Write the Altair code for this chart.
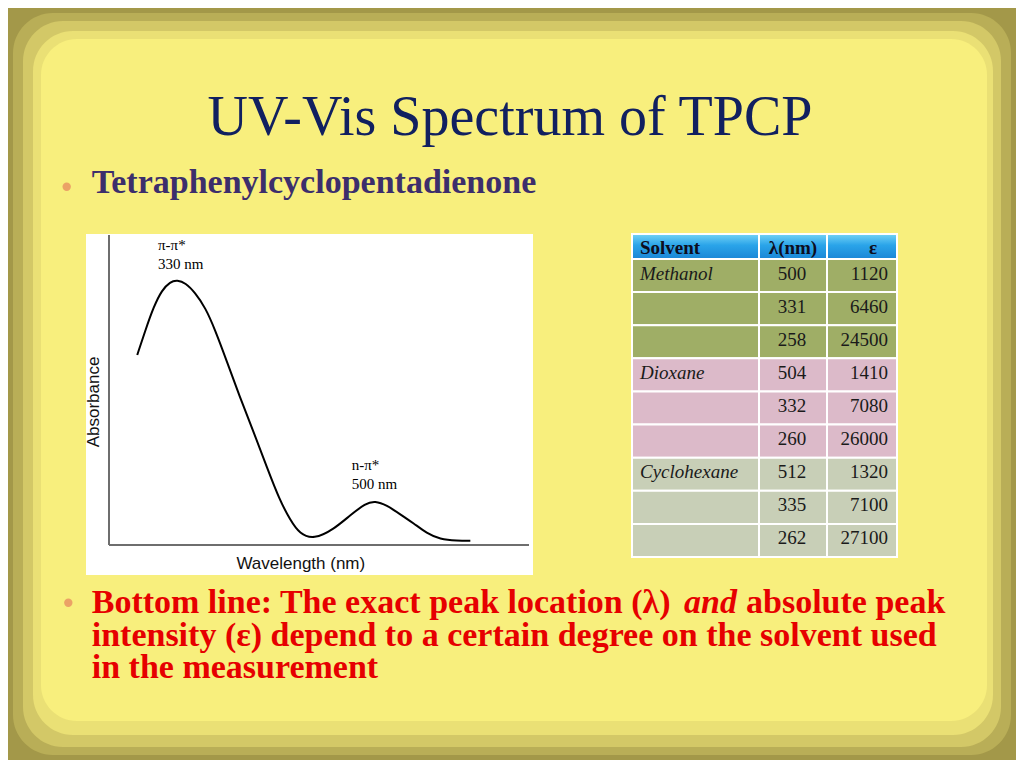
import altair as alt
import pandas as pd

# ---------------- data ----------------
# UV-Vis spectrum (schematic)
wavelength_nm = [298, 305, 312, 319, 326, 332, 339, 347, 356, 364, 374, 385, 397, 408,
                 419, 428, 436, 448, 465, 479, 492, 500, 510, 521, 533, 544, 555, 570, 581]
absorbance = [0.617, 0.698, 0.774, 0.828, 0.855, 0.860, 0.851, 0.820, 0.770, 0.700, 0.598,
              0.482, 0.366, 0.254, 0.146, 0.081, 0.036, 0.018, 0.051, 0.097, 0.135, 0.143,
              0.129, 0.101, 0.070, 0.038, 0.019, 0.014, 0.014]

# table
solvent_labels = ["Methanol", "", "", "Dioxane", "", "", "Cyclohexane", "", ""]
solvent_group = ["Methanol"] * 3 + ["Dioxane"] * 3 + ["Cyclohexane"] * 3
lambda_nm = [500, 331, 258, 504, 332, 260, 512, 335, 262]
epsilon = [1120, 6460, 24500, 1410, 7080, 26000, 1320, 7100, 27100]
table_headers = ["Solvent", "\u03bb(nm)", "\u03b5"]
group_names = ["Methanol", "Dioxane", "Cyclohexane"]
group_colors = ["#9fae66", "#dcbac9", "#c8cfb7"]

# texts
title_text = "UV-Vis Spectrum of TPCP"
subtitle_text = "Tetraphenylcyclopentadienone"
peak1_label = ["\u03c0-\u03c0*", "330 nm"]
peak2_label = ["n-\u03c0*", "500 nm"]
x_title = "Wavelength (nm)"
y_title = "Absorbance"
bottom_line1 = ["Bottom line: The exact peak location (\u03bb) ", "and", "absolute peak"]
bottom_line2 = "intensity (\u03b5) depend to a certain degree on the solvent used"
bottom_line3 = "in the measurement"

W, H = 1008, 752
SERIF = "Liberation Serif"
SANS = "Liberation Sans"

dummy = pd.DataFrame({"d": [0]})


def box(x0, y0, x1, y1, **kw):
    return alt.Chart(dummy).mark_rect(**kw).encode(
        x=alt.value(x0), x2=alt.value(x1), y=alt.value(y0), y2=alt.value(y1))


def label(text, x, y, **kw):
    return alt.Chart(dummy).mark_text(text=text, **kw).encode(x=alt.value(x), y=alt.value(y))


layers = []

# slide frame (textured border approximated by nested rounded rects)
layers += [
    box(5, 5, 1003, 747, fill="#b9ae57", cornerRadius=40),
    box(15, 13, 993, 739, fill="#d3c867", cornerRadius=40),
    box(25, 23, 985, 727, fill="#eae075", cornerRadius=40),
    box(33, 31, 979, 713, fill="#f8ef7d", cornerRadius=36),
]

# title and subtitle
layers.append(label(title_text, 502, 127, font=SERIF, fontSize=56, color="#112060",
                    align="center", baseline="alphabetic"))
layers.append(alt.Chart(dummy).mark_circle(size=70, color="#eba266", opacity=1).encode(
    x=alt.value(58.7), y=alt.value(178.7)))
layers.append(label(subtitle_text, 83.7, 185.3, font=SERIF, fontSize=34, fontWeight="bold",
                    color="#3c2e6c", align="left", baseline="alphabetic"))

# ---------------- spectrum ----------------
layers.append(box(78, 226, 525, 567, fill="white"))
layers.append(alt.Chart(dummy).mark_rule(color="#6e6e6e", strokeWidth=2).encode(
    x=alt.value(101), x2=alt.value(521), y=alt.value(537)))
layers.append(alt.Chart(dummy).mark_rule(color="#6e6e6e", strokeWidth=2).encode(
    x=alt.value(101), y=alt.value(227), y2=alt.value(537)))

spec_df = pd.DataFrame({"wavelength": wavelength_nm, "absorbance": absorbance})
layers.append(alt.Chart(spec_df).mark_line(color="black", strokeWidth=2,
                                           interpolate="basis").encode(
    x=alt.X("wavelength:Q", axis=None,
            scale=alt.Scale(domain=[274, 630], range=[101, 520], nice=False, zero=False)),
    y=alt.Y("absorbance:Q", axis=None,
            scale=alt.Scale(domain=[0, 1], range=[537, 229], nice=False, zero=False)),
))

layers.append(label(peak1_label[0], 150, 241.5, font=SERIF, fontSize=15, color="black",
                    align="left", baseline="alphabetic"))
layers.append(label(peak1_label[1], 150, 261.3, font=SERIF, fontSize=15, color="black",
                    align="left", baseline="alphabetic"))
layers.append(label(peak2_label[0], 343.7, 462.3, font=SERIF, fontSize=15, color="black",
                    align="left", baseline="alphabetic"))
layers.append(label(peak2_label[1], 343.7, 481.3, font=SERIF, fontSize=15, color="black",
                    align="left", baseline="alphabetic"))
layers.append(label(x_title, 292.8, 561, font=SANS, fontSize=17, color="#111111",
                    align="center", baseline="alphabetic"))
layers.append(label(y_title, 85.5, 394, font=SANS, fontSize=17, color="#111111",
                    align="center", baseline="middle", angle=270))

# ---------------- table ----------------
tab_df = pd.DataFrame({
    "r": list(range(len(lambda_nm))),
    "solvent": solvent_labels,
    "group": solvent_group,
    "lam": [str(v) for v in lambda_nm],
    "eps": [str(v) for v in epsilon],
})
rows = list(range(len(lambda_nm)))
band_y = alt.Y("r:O", axis=None,
               scale=alt.Scale(type="band", domain=rows, range=[251, 549],
                               paddingInner=0, paddingOuter=0))
point_y = alt.Y("r:O", axis=None,
                scale=alt.Scale(type="point", domain=rows, range=[251, 549], padding=0.5))
fill_enc = alt.Fill("group:N", legend=None,
                    scale=alt.Scale(domain=group_names, range=group_colors))

col_edges = [624, 751, 819, 889]
for i in range(3):
    layers.append(alt.Chart(tab_df).mark_rect(stroke="white", strokeWidth=2).encode(
        x=alt.value(col_edges[i]), x2=alt.value(col_edges[i + 1]), y=band_y, fill=fill_enc))

header_fill = alt.Gradient(gradient="linear", x1=0, x2=0, y1=0, y2=1, stops=[
    alt.GradientStop(offset=0, color="#74d3f6"),
    alt.GradientStop(offset=0.45, color="#2aa4e9"),
    alt.GradientStop(offset=1, color="#1a86d6")])
for i in range(3):
    layers.append(box(col_edges[i], 226, col_edges[i + 1], 251, fill=header_fill,
                      stroke="white", strokeWidth=2))

layers.append(label(table_headers[0], 632, 246, font=SERIF, fontSize=19, fontWeight="bold",
                    color="#0d0d20", align="left", baseline="alphabetic"))
layers.append(label(table_headers[1], 785, 246, font=SERIF, fontSize=19, fontWeight="bold",
                    color="#0d0d20", align="center", baseline="alphabetic"))
layers.append(label(table_headers[2], 865, 246, font=SERIF, fontSize=19, fontWeight="bold",
                    color="#0d0d20", align="center", baseline="alphabetic"))

layers.append(alt.Chart(tab_df).mark_text(font=SERIF, fontSize=19, fontStyle="italic",
                                          color="#1a1a1a", align="left",
                                          baseline="alphabetic", dy=4).encode(
    x=alt.value(632), y=point_y, text="solvent:N"))
layers.append(alt.Chart(tab_df).mark_text(font=SERIF, fontSize=19, color="#1a1a1a",
                                          align="center", baseline="alphabetic", dy=4).encode(
    x=alt.value(784), y=point_y, text="lam:N"))
layers.append(alt.Chart(tab_df).mark_text(font=SERIF, fontSize=19, color="#1a1a1a",
                                          align="right", baseline="alphabetic", dy=4).encode(
    x=alt.value(880), y=point_y, text="eps:N"))

# ---------------- bottom bullet ----------------
RED = "#e60000"
layers.append(alt.Chart(dummy).mark_circle(size=70, color="#eba266", opacity=1).encode(
    x=alt.value(60.3), y=alt.value(594.7)))
layers.append(label(bottom_line1[0], 83.7, 605.3, font=SERIF, fontSize=34, fontWeight="bold",
                    color=RED, align="left", baseline="alphabetic"))
layers.append(label(bottom_line1[1], 676, 605.3, font=SERIF, fontSize=34, fontWeight="bold",
                    fontStyle="italic", color=RED, align="left", baseline="alphabetic"))
layers.append(label(bottom_line1[2], 738, 605.3, font=SERIF, fontSize=34, fontWeight="bold",
                    color=RED, align="left", baseline="alphabetic"))
layers.append(label(bottom_line2, 83.7, 638, font=SERIF, fontSize=34, fontWeight="bold",
                    color=RED, align="left", baseline="alphabetic"))
layers.append(label(bottom_line3, 83.7, 670.3, font=SERIF, fontSize=34, fontWeight="bold",
                    color=RED, align="left", baseline="alphabetic"))

chart = alt.layer(*layers).resolve_scale(
    x="independent", y="independent", fill="independent"
).properties(
    width=W, height=H, padding=0, background="#a39849",
    autosize=alt.AutoSizeParams(type="none"),
).configure_view(stroke=None)

chart.save("out.html", embed_options={"renderer": "svg", "actions": False})
